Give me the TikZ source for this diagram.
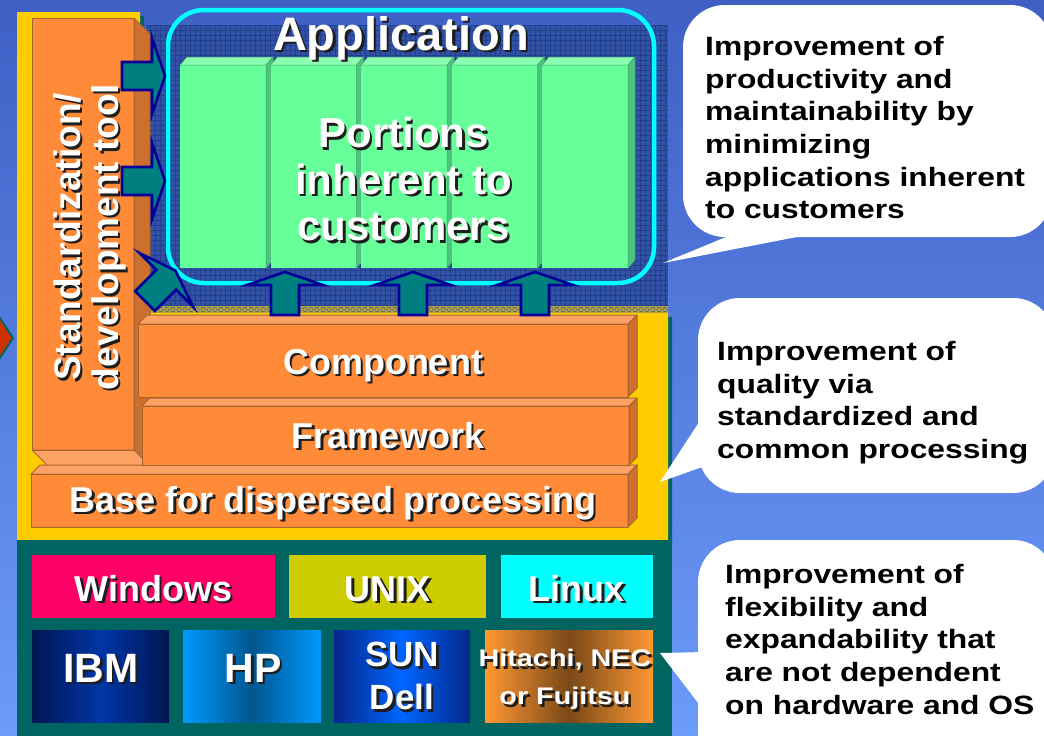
\documentclass[tikz,border=0pt]{standalone}
\usepackage{fontspec}
\setmainfont{Liberation Sans}
\newfontfamily\widefont{Liberation Sans}[FakeStretch=1.2]

\definecolor{bgtop}{HTML}{3F5FC5}
\definecolor{bgbot}{HTML}{6B9BFB}
\definecolor{ybg}{HTML}{FFCC00}
\definecolor{tealp}{HTML}{006461}
\definecolor{patbg}{HTML}{3152A6}
\definecolor{patln}{HTML}{22408C}
\definecolor{stripc}{HTML}{B3A23E}
\definecolor{stripln}{HTML}{4A5E8C}
\definecolor{ofront}{HTML}{FF8A38}
\definecolor{otop}{HTML}{FFA266}
\definecolor{oside}{HTML}{CF6F2D}
\definecolor{oedge}{HTML}{A5652E}
\definecolor{gfront}{HTML}{66FF99}
\definecolor{gtop}{HTML}{8DFDB1}
\definecolor{gside}{HTML}{4DC57E}
\definecolor{framec}{HTML}{00FFFF}
\definecolor{afill}{HTML}{007F80}
\definecolor{aline}{HTML}{000099}
\definecolor{txtshadow}{HTML}{1E1E1E}
\definecolor{redtip}{HTML}{CC3300}
\definecolor{winc}{HTML}{FF0066}
\definecolor{unixc}{HTML}{CCCC00}
\definecolor{linuxc}{HTML}{00FFFF}
\definecolor{ibmedge}{HTML}{001650}
\definecolor{ibmmid}{HTML}{0036A6}
\definecolor{hpedge}{HTML}{0099FF}
\definecolor{hpmid}{HTML}{00568F}
\definecolor{sunedge}{HTML}{06268A}
\definecolor{sunmid}{HTML}{0066FF}
\definecolor{hitedge}{HTML}{FF9933}
\definecolor{hitmid}{HTML}{7A4818}

% white lettering with a drop shadow (upright / turned by 90 degrees)
\newcommand\sh[1]{\rlap{\kern2.5pt\raisebox{-2.5pt}{\textcolor{txtshadow}{#1}}}#1}
\newcommand\shv[1]{\rlap{\kern-2.5pt\raisebox{-2.5pt}{\textcolor{txtshadow}{#1}}}#1}

\tikzset{
  face/.style={draw=oedge, line width=1pt, line join=round},
  gface/.style={draw=gside!85!black, line width=0.5pt},
  blockarrowsty/.style={fill=afill, draw=aline, line width=2.6pt, line join=miter},
  whitetxt/.style={inner sep=0pt, text=white},
  note/.style={inner sep=0pt, align=left, text=black,
    font=\widefont\bfseries\fontsize{26.5}{32.7}\selectfont},
}

% orange slab: front face x1,y1,x2,y2 and depth towards the upper right
\newcommand\slab[5]{%
  \fill[ofront] (#1,#2) rectangle (#3,#4);
  \filldraw[face,fill=otop] (#1,#2) -- (#1+#5,#2-#5) -- (#3+#5,#2-#5) -- (#3,#2) -- cycle;
  \filldraw[face,fill=oside] (#3,#2) -- (#3+#5,#2-#5) -- (#3+#5,#4-#5) -- (#3,#4) -- cycle;
  \draw[face] (#1,#2) rectangle (#3,#4);}

% block arrow: tail centre x, y and direction
\newcommand\blockarrow[3]{%
  \filldraw[blockarrowsty,shift={(#1,#2)},rotate=#3]
    (0,-14) -- (30,-14) -- (30,-38) -- (43,0) -- (30,38) -- (30,14) -- (0,14) -- cycle;}

\begin{document}
\begin{tikzpicture}[x=1pt,y=-1pt]
\useasboundingbox (0,0) rectangle (1044,736);
\clip (0,0) rectangle (1044,736);

% backdrop
\shade[top color=bgtop, bottom color=bgbot] (0,0) rectangle (1044,736);

% tip of the incoming arrow on the far left
\filldraw[fill=redtip, draw=tealp, line width=2pt] (-12,300) -- (13,338) -- (-12,376) -- cycle;

% yellow middleware panel and its shadow
\fill[tealp] (21,16) -- (144,16) -- (144,317) -- (672,317) -- (672,544) -- (21,544) -- cycle;
\fill[ybg] (17,12) -- (140,12) -- (140,313) -- (668,313) -- (668,540) -- (17,540) -- cycle;

% textured application field
\fill[patbg] (146,25) rectangle (668,306);
\draw[patln, line width=0.5pt] (146,25) grid[step=5pt] (668,306);
\fill[stripc] (146,306) rectangle (668,313);
\foreach \cx in {149,155,...,665} \draw[stripln, line width=0.5pt] (\cx,309.5) circle (2.2pt);

% platform panel
\fill[tealp] (17,540) rectangle (672,736);

% standardization / development tool column
\fill[ofront] (32,18) rectangle (134,450);
\filldraw[face,fill=oside] (134,18) -- (150,34) -- (150,466) -- (134,450) -- cycle;
\filldraw[face,fill=otop] (32,450) -- (134,450) -- (150,466) -- (48,466) -- cycle;
\draw[face] (32,18) rectangle (134,450);

% layers
\slab{31}{474}{628}{527}{9}
\slab{142}{406}{629}{465}{8}
\slab{138}{324}{628}{397}{9}

% customer-specific blocks
\foreach \xa in {180,270.5,361,451.5,542} {
  \fill[gfront] (\xa,65) rectangle (\xa+86,268);
  \filldraw[gface,fill=gtop] (\xa,65) -- (\xa+7,57) -- (\xa+93,57) -- (\xa+86,65) -- cycle;
  \filldraw[gface,fill=gside] (\xa+86,65) -- (\xa+93,57) -- (\xa+93,260) -- (\xa+86,268) -- cycle;
}

% application frame
\draw[framec, line width=4.5pt, rounded corners=36pt] (168,10) rectangle (654,283);

% block arrows
\blockarrow{122}{76}{0}
\blockarrow{122}{181}{0}
\blockarrow{145}{301}{45}
\blockarrow{285}{315}{90}
\blockarrow{413}{315}{90}
\blockarrow{535}{315}{90}

% operating systems
\fill[winc] (32,555) rectangle (275,618);
\fill[unixc] (289,555) rectangle (486,618);
\fill[linuxc] (501,555) rectangle (653,618);
% hardware vendors
\fill[left color=ibmedge, right color=ibmedge, middle color=ibmmid] (32,630) rectangle (169,722);
\fill[left color=hpedge, right color=hpedge, middle color=hpmid] (183,630) rectangle (321,722);
\fill[left color=sunedge, right color=sunedge, middle color=sunmid] (334,630) rectangle (470,722);
\fill[left color=hitedge, right color=hitedge, middle color=hitmid] (485,630) rectangle (653,722);

% labels
\node[whitetxt, anchor=base, font=\bfseries\fontsize{47}{50}\selectfont] (apptitle) at (401,50) {\sh{Application}};
\node[whitetxt, anchor=north, align=center, font=\bfseries\fontsize{42}{46.5}\selectfont] (portions) at (403.5,117)
  {\sh{Portions}\\\sh{inherent to}\\\sh{customers}};
\node[whitetxt, anchor=north, align=center, rotate=90, font=\bfseries\fontsize{37}{38}\selectfont] (tool) at (53,237)
  {\shv{Standardization/}\\\shv{development tool}};
\node[whitetxt, anchor=base, font=\bfseries\fontsize{36}{40}\selectfont] (component) at (383,374) {\sh{Component}};
\node[whitetxt, anchor=base, font=\bfseries\fontsize{36}{40}\selectfont] (framework) at (388,448) {\sh{Framework}};
\node[whitetxt, anchor=base, font=\bfseries\fontsize{36}{40}\selectfont] (base) at (333,512) {\sh{Base for dispersed processing}};

\node[whitetxt, anchor=base, font=\bfseries\fontsize{36}{40}\selectfont] (windows) at (153.5,601) {\sh{Windows}};
\node[whitetxt, anchor=base, font=\bfseries\fontsize{36}{40}\selectfont] (unix) at (388,601) {\sh{UNIX}};
\node[whitetxt, anchor=base, font=\bfseries\fontsize{36}{40}\selectfont] (linux) at (576.5,601) {\sh{Linux}};
\node[whitetxt, anchor=base, font=\bfseries\fontsize{41}{44}\selectfont] (ibm) at (101,682) {\sh{IBM}};
\node[whitetxt, anchor=base, font=\bfseries\fontsize{41}{44}\selectfont] (hp) at (253,682) {\sh{HP}};
\node[whitetxt, anchor=north, align=center, font=\bfseries\fontsize{35}{43}\selectfont] (sundell) at (402,642)
  {\sh{SUN}\\\sh{Dell}};
\node[whitetxt, anchor=north, align=center, font=\widefont\bfseries\fontsize{24}{38}\selectfont] (japan) at (565,649)
  {\sh{Hitachi, NEC}\\\sh{or Fujitsu}};

% call-outs
\fill[white, rounded corners=42pt] (683,5) rectangle (1052,237);
\fill[white] (743,230) -- (663,263) -- (833,230) -- cycle;
\fill[white, rounded corners=42pt] (698,298) rectangle (1055,493);
\fill[white] (705,413) -- (660,482) -- (705,466) -- cycle;
\fill[white, rounded corners=42pt] (698,540) rectangle (1055,780);
\fill[white] (705,652) -- (660,653) -- (705,712) -- cycle;

\node[note, anchor=north west] (note1) at (705,36)
  {Improvement of\\productivity and\\maintainability by\\minimizing\\applications inherent\\to customers};
\node[note, anchor=north west] (note2) at (717,341)
  {Improvement of\\quality via\\standardized and\\common processing};
\node[note, anchor=north west] (note3) at (725,564)
  {Improvement of\\flexibility and\\expandability that\\are not dependent\\on hardware and OS};
\end{tikzpicture}
\end{document}
